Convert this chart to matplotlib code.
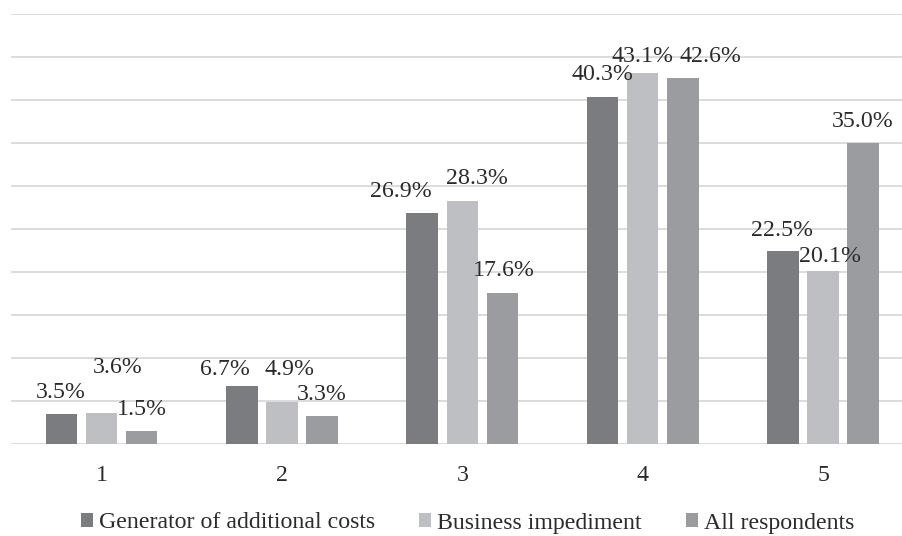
import matplotlib

matplotlib.use("Agg")
import matplotlib.pyplot as plt
import numpy as np
from matplotlib.patches import Patch

categories = ["1", "2", "3", "4", "5"]
series_names = ["Generator of additional costs", "Business impediment", "All respondents"]
generator = [3.5, 6.7, 26.9, 40.3, 22.5]
impediment = [3.6, 4.9, 28.3, 43.1, 20.1]
all_resp = [1.5, 3.3, 17.6, 42.6, 35.0]

colors = ["#7b7c80", "#bebfc3", "#9b9ca0"]
TEXT = "#2b2b2b"

# label nudges (dx px, baseline gap px above bar top), mimicking Excel's overlap avoidance
nudges = [
    [(-1, 16), (-17, 11), (-21, 16), (0, 17), (-1, 15)],
    [(16, 40), (8, 27), (15, 17), (0, 11), (7, 9)],
    [(0, 16), (0, 16), (1, 17), (28, 16), (0, 16)],
]

plt.rcParams["font.family"] = ["Liberation Serif", "DejaVu Serif"]
FS = 17.2

fig = plt.figure(figsize=(9.02, 5.36), dpi=100)
ax = fig.add_axes([11.3 / 902, 92 / 536, 902 / 902, 430 / 536])

x = np.arange(len(categories))
width = 0.175
step = 0.222
data = [generator, impediment, all_resp]
for i, (vals, c) in enumerate(zip(data, colors)):
    pos = x + (i - 1) * step
    ax.bar(pos, vals, width, color=c, zorder=3)
    for xp, v, (dx, dy) in zip(pos, vals, nudges[i]):
        ax.annotate(f"{v:.1f}%", (xp, v), xytext=(dx, dy), textcoords="offset pixels",
                    ha="center", va="baseline", fontsize=FS, color=TEXT, zorder=5)

ax.set_xlim(-0.5, len(categories) - 0.5)
ax.set_ylim(0, 50)
ax.set_yticks(np.arange(0, 51, 5))
ax.yaxis.grid(True, color="#d9d9d9", linewidth=1.3, zorder=0)
ax.set_axisbelow(True)
ax.set_yticklabels([])
ax.tick_params(axis="y", length=0)
ax.set_xticks(x)
ax.set_xticklabels(categories, fontsize=FS, color=TEXT)
ax.tick_params(axis="x", length=0, pad=15)
for sp in ax.spines.values():
    sp.set_visible(False)

handles = [Patch(facecolor=c, edgecolor="none") for c in colors]
fig.legend(handles, series_names, loc="center", bbox_to_anchor=(467.5 / 902, 1 - 523 / 536),
           ncol=3, frameon=False, fontsize=FS, handlelength=0.5, handleheight=0.5,
           handletextpad=0.25, columnspacing=1.85, labelcolor=TEXT)

fig.savefig("out.png", dpi=100)
